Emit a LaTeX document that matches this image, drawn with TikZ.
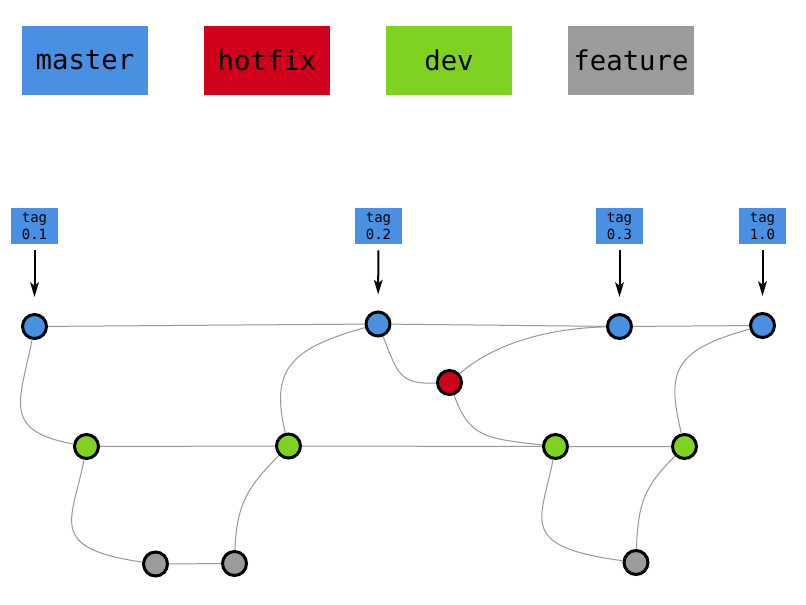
\documentclass[tikz,border=0pt]{standalone}
\usepackage{fontspec}
\setmonofont{DejaVu Sans Mono}
\usetikzlibrary{arrows.meta}

\definecolor{masterc}{HTML}{4A90E2}
\definecolor{hotfixc}{HTML}{D0021B}
\definecolor{devc}{HTML}{7ED321}
\definecolor{featc}{HTML}{9B9B9B}
\definecolor{edgec}{HTML}{979797}

\tikzstyle{commit} = [circle, draw=black, line width=2.25pt, minimum size=18pt, inner sep=0pt]
\tikzstyle{mn} = [commit, fill=masterc]
\tikzstyle{hn} = [commit, fill=hotfixc]
\tikzstyle{dn} = [commit, fill=devc]
\tikzstyle{fn} = [commit, fill=featc]
\tikzstyle{lb} = [minimum width=94.5pt, minimum height=51.75pt, inner sep=0pt, font=\ttfamily\fontsize{20.5}{24}\selectfont]
\tikzstyle{tb} = [fill=masterc, minimum width=35.25pt, minimum height=27pt, inner sep=0pt, align=center, font=\ttfamily\fontsize{10.5}{13}\selectfont]
\tikzstyle{br} = [draw=edgec, line width=0.75pt]
\tikzstyle{ta} = [-{Stealth[length=11pt,width=6.5pt,inset=2.5pt]}, line width=1.5pt, shorten <=4.5pt, shorten >=12pt]

\begin{document}
\begin{tikzpicture}[x=0.75pt, y=-0.75pt]
  \useasboundingbox (0,0) rectangle (806,604);

  % legend
  \node[lb, fill=masterc] (lmaster) at (85,60.5) {master};
  \node[lb, fill=hotfixc] (lhotfix) at (267,60.5) {hotfix};
  \node[lb, fill=devc] (ldev) at (449,60.5) {dev};
  \node[lb, fill=featc] (lfeat) at (631,60.5) {feature};

  % tags
  \node[tb] (t1) at (34.5,226) {tag\\0.1};
  \node[tb] (t2) at (378.5,226) {tag\\0.2};
  \node[tb] (t3) at (619.5,226) {tag\\0.3};
  \node[tb] (t4) at (762.5,226) {tag\\1.0};

  % commits
  \node[mn] (m1) at (34.5,326.5) {};
  \node[mn] (m2) at (378,324) {};
  \node[mn] (m3) at (619.5,326.5) {};
  \node[mn] (m4) at (762.5,325.5) {};
  \node[hn] (h1) at (449.5,382.5) {};
  \node[dn] (d1) at (86.5,446.5) {};
  \node[dn] (d2) at (288.5,446) {};
  \node[dn] (d3) at (555.5,446.5) {};
  \node[dn] (d4) at (684.5,446.5) {};
  \node[fn] (f1) at (155.5,564) {};
  \node[fn] (f2) at (234.5,563.5) {};
  \node[fn] (f3) at (636,562.5) {};

  % tag arrows
  \draw[ta] (t1) -- (m1);
  \draw[ta] (t2) -- (m2);
  \draw[ta] (t3) -- (m3);
  \draw[ta] (t4) -- (m4);

  % history
  \draw[br] (m1) -- (m2) -- (m3) -- (m4);
  \draw[br] (d1) -- (d2) -- (d3) -- (d4);
  \draw[br] (f1) -- (f2);
  \draw[br] (m1) .. controls +(-14,74) and +(-86,-16) .. (d1);
  \draw[br] (d1) .. controls +(-14,74) and +(-110,-16) .. (f1);
  \draw[br] (f2) .. controls +(2,-60) and +(-40,40) .. (d2);
  \draw[br] (d2) .. controls +(-18,-75) and +(-90,25) .. (m2);
  \draw[br] (m2) .. controls +(20,50) and +(-50,2) .. (h1);
  \draw[br] (h1) .. controls +(40,-35) and +(-80,2) .. (m3);
  \draw[br] (h1) .. controls +(20,55) and +(-70,-8) .. (d3);
  \draw[br] (d3) .. controls +(-14,74) and +(-120,-16) .. (f3);
  \draw[br] (f3) .. controls +(2,-60) and +(-40,40) .. (d4);
  \draw[br] (d4) .. controls +(-18,-75) and +(-90,25) .. (m4);
\end{tikzpicture}
\end{document}
